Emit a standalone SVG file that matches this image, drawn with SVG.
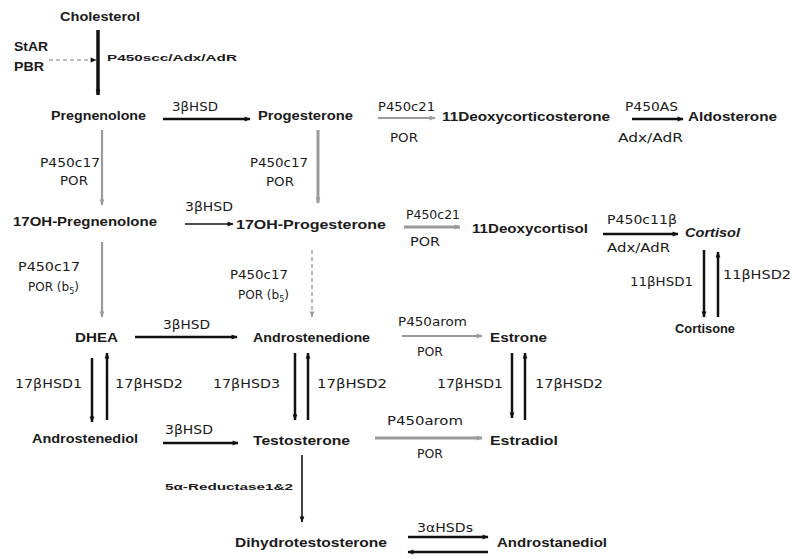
<svg xmlns="http://www.w3.org/2000/svg" width="792" height="559" viewBox="0 0 792 559">
<defs>
<style>
.n{font-family:"Liberation Sans",Arial,sans-serif;font-size:12px;font-weight:bold;fill:#1a1a1a}
.e{font-family:"DejaVu Sans","Liberation Sans",sans-serif;font-size:12px;fill:#1a1a1a}
.s{font-family:"Liberation Sans",Arial,sans-serif;font-size:9px;font-weight:bold;fill:#1a1a1a}
.k{stroke:#111;stroke-width:2.5;fill:none}
.kt{stroke:#111;stroke-width:1.6;fill:none}
.g{stroke:#9a9a9a;stroke-width:2.2;fill:none}
.gd{stroke:#a8a8a8;stroke-width:1.6;fill:none;stroke-dasharray:4 3}
</style>
<marker id="ak" viewBox="0 0 10 10" refX="9" refY="5" markerWidth="7" markerHeight="6" markerUnits="userSpaceOnUse" orient="auto"><path d="M0,1 L10,5 L0,9z" fill="#111"/></marker>
<marker id="ag" viewBox="0 0 10 10" refX="9" refY="5" markerWidth="7" markerHeight="6" markerUnits="userSpaceOnUse" orient="auto"><path d="M0,1 L10,5 L0,9z" fill="#9a9a9a"/></marker>
</defs>
<rect width="792" height="559" fill="#fff"/>

<g id="connectors">
<line class="gd" x1="49" y1="60" x2="96" y2="60" marker-end="url(#ak)"/>
<line x1="98" y1="30" x2="98" y2="95" stroke="#111" stroke-width="3.5" marker-end="url(#ak)"/>
<line class="k" x1="163" y1="119" x2="250" y2="119" marker-end="url(#ak)"/>
<line class="g" x1="378" y1="118" x2="435" y2="118" marker-end="url(#ag)"/>
<line class="k" x1="632" y1="119" x2="683" y2="119" marker-end="url(#ak)"/>
<line class="g" x1="102" y1="130" x2="102" y2="205" marker-end="url(#ag)"/>
<line x1="318" y1="130" x2="318" y2="203" stroke="#9a9a9a" stroke-width="3" marker-end="url(#ag)"/>
<line class="kt" x1="185" y1="224" x2="233" y2="224" marker-end="url(#ak)"/>
<line x1="404" y1="227" x2="460" y2="227" stroke="#9a9a9a" stroke-width="3" marker-end="url(#ag)"/>
<line class="k" x1="603" y1="234" x2="678" y2="234" marker-end="url(#ak)"/>
<line class="k" x1="704" y1="250" x2="704" y2="317" marker-end="url(#ak)"/>
<line class="k" x1="718" y1="317" x2="718" y2="252" marker-end="url(#ak)"/>
<line class="g" x1="102" y1="242" x2="102" y2="317" marker-end="url(#ag)"/>
<line class="gd" x1="312" y1="250" x2="312" y2="317" marker-end="url(#ag)"/>
<line class="k" x1="135" y1="337" x2="237" y2="337" marker-end="url(#ak)"/>
<line class="g" x1="402" y1="336" x2="482" y2="336" marker-end="url(#ag)"/>
<line class="k" x1="92" y1="358" x2="92" y2="422" marker-end="url(#ak)"/>
<line class="k" x1="107" y1="420" x2="107" y2="353" marker-end="url(#ak)"/>
<line class="k" x1="295" y1="353" x2="295" y2="420" marker-end="url(#ak)"/>
<line class="k" x1="308" y1="420" x2="308" y2="353" marker-end="url(#ak)"/>
<line class="k" x1="512" y1="353" x2="512" y2="418" marker-end="url(#ak)"/>
<line class="k" x1="525" y1="420" x2="525" y2="353" marker-end="url(#ak)"/>
<line class="k" x1="163" y1="443" x2="238" y2="443" marker-end="url(#ak)"/>
<line x1="375" y1="438" x2="482" y2="438" stroke="#9a9a9a" stroke-width="3" marker-end="url(#ag)"/>
<line class="kt" x1="302" y1="455" x2="302" y2="522" marker-end="url(#ak)"/>
<line class="k" x1="408" y1="537" x2="488" y2="537" marker-end="url(#ak)"/>
<line class="k" x1="488" y1="552" x2="408" y2="552" marker-end="url(#ak)"/>
</g>

<g id="labels">
<text class="n" x="14" y="51" textLength="34" lengthAdjust="spacingAndGlyphs">StAR</text>
<text class="n" x="14" y="71" textLength="30" lengthAdjust="spacingAndGlyphs">PBR</text>
<text class="s" x="107" y="61" textLength="130" lengthAdjust="spacingAndGlyphs">P450scc/Adx/AdR</text>
<text class="e" x="172" y="111" textLength="46" lengthAdjust="spacingAndGlyphs">3βHSD</text>
<text class="e" x="378" y="111" textLength="57" lengthAdjust="spacingAndGlyphs">P450c21</text>
<text class="e" x="390" y="142" textLength="28" lengthAdjust="spacingAndGlyphs">POR</text>
<text class="e" x="625" y="111" textLength="53" lengthAdjust="spacingAndGlyphs">P450AS</text>
<text class="e" x="618" y="142" textLength="65" lengthAdjust="spacingAndGlyphs">Adx/AdR</text>
<text class="e" x="40" y="167" textLength="60" lengthAdjust="spacingAndGlyphs">P450c17</text>
<text class="e" x="60" y="185" textLength="28" lengthAdjust="spacingAndGlyphs">POR</text>
<text class="e" x="250" y="167" textLength="58" lengthAdjust="spacingAndGlyphs">P450c17</text>
<text class="e" x="266" y="186" textLength="28" lengthAdjust="spacingAndGlyphs">POR</text>
<text class="e" x="185" y="211" font-size="10" textLength="48" lengthAdjust="spacingAndGlyphs">3βHSD</text>
<text class="e" x="406" y="219" textLength="54" lengthAdjust="spacingAndGlyphs">P450c21</text>
<text class="e" x="410" y="246" textLength="30" lengthAdjust="spacingAndGlyphs">POR</text>
<text class="e" x="607" y="224" textLength="70" lengthAdjust="spacingAndGlyphs">P450c11β</text>
<text class="e" x="607" y="252" textLength="63" lengthAdjust="spacingAndGlyphs">Adx/AdR</text>
<text class="e" x="630" y="286" textLength="63" lengthAdjust="spacingAndGlyphs">11βHSD1</text>
<text class="e" x="723" y="279" textLength="68" lengthAdjust="spacingAndGlyphs">11βHSD2</text>
<text class="e" x="18" y="271" textLength="62" lengthAdjust="spacingAndGlyphs">P450c17</text>
<text class="e" x="28" y="291">POR (b<tspan font-size="8" dy="3">5</tspan><tspan dy="-3">)</tspan></text>
<text class="e" x="230" y="279" textLength="58" lengthAdjust="spacingAndGlyphs">P450c17</text>
<text class="e" x="238" y="299">POR (b<tspan font-size="8" dy="3">5</tspan><tspan dy="-3">)</tspan></text>
<text class="e" x="163" y="329" textLength="47" lengthAdjust="spacingAndGlyphs">3βHSD</text>
<text class="e" x="398" y="326" textLength="69" lengthAdjust="spacingAndGlyphs">P450arom</text>
<text class="e" x="417" y="356" textLength="26" lengthAdjust="spacingAndGlyphs">POR</text>
<text class="e" x="15" y="388" textLength="67" lengthAdjust="spacingAndGlyphs">17βHSD1</text>
<text class="e" x="115" y="388" textLength="68" lengthAdjust="spacingAndGlyphs">17βHSD2</text>
<text class="e" x="213" y="388" textLength="67" lengthAdjust="spacingAndGlyphs">17βHSD3</text>
<text class="e" x="317" y="388" textLength="70" lengthAdjust="spacingAndGlyphs">17βHSD2</text>
<text class="e" x="437" y="388" textLength="66" lengthAdjust="spacingAndGlyphs">17βHSD1</text>
<text class="e" x="535" y="388" textLength="68" lengthAdjust="spacingAndGlyphs">17βHSD2</text>
<text class="e" x="165" y="434" textLength="48" lengthAdjust="spacingAndGlyphs">3βHSD</text>
<text class="e" x="387" y="425" font-size="8" textLength="76" lengthAdjust="spacingAndGlyphs">P450arom</text>
<text class="e" x="417" y="458" textLength="26" lengthAdjust="spacingAndGlyphs">POR</text>
<text class="s" x="165" y="490" textLength="128" lengthAdjust="spacingAndGlyphs">5α-Reductase1&amp;2</text>
<text class="e" x="417" y="532" textLength="56" lengthAdjust="spacingAndGlyphs">3αHSDs</text>
</g>

<g id="cholesterol"><text class="n" x="60" y="21" textLength="80" lengthAdjust="spacingAndGlyphs">Cholesterol</text></g>
<g id="pregnenolone"><text class="n" x="51" y="120" textLength="95" lengthAdjust="spacingAndGlyphs">Pregnenolone</text></g>
<g id="progesterone"><text class="n" x="258" y="120" textLength="95" lengthAdjust="spacingAndGlyphs">Progesterone</text></g>
<g id="deoxycorticosterone"><text class="n" x="442" y="121" textLength="168" lengthAdjust="spacingAndGlyphs">11Deoxycorticosterone</text></g>
<g id="aldosterone"><text class="n" x="688" y="121" textLength="89" lengthAdjust="spacingAndGlyphs">Aldosterone</text></g>
<g id="oh-pregnenolone"><text class="n" x="13" y="226" textLength="144" lengthAdjust="spacingAndGlyphs">17OH-Pregnenolone</text></g>
<g id="oh-progesterone"><text class="n" x="236" y="229" textLength="150" lengthAdjust="spacingAndGlyphs">17OH-Progesterone</text></g>
<g id="deoxycortisol"><text class="n" x="472" y="233" textLength="116" lengthAdjust="spacingAndGlyphs">11Deoxycortisol</text></g>
<g id="cortisol"><text class="n" x="685" y="237" font-style="italic" textLength="55" lengthAdjust="spacingAndGlyphs">Cortisol</text></g>
<g id="cortisone"><text class="n" x="675" y="333" textLength="60" lengthAdjust="spacingAndGlyphs">Cortisone</text></g>
<g id="dhea"><text class="n" x="75" y="342" textLength="43" lengthAdjust="spacingAndGlyphs">DHEA</text></g>
<g id="androstenedione"><text class="n" x="253" y="342" textLength="117" lengthAdjust="spacingAndGlyphs">Androstenedione</text></g>
<g id="estrone"><text class="n" x="490" y="342" textLength="57" lengthAdjust="spacingAndGlyphs">Estrone</text></g>
<g id="androstenediol"><text class="n" x="32" y="443" textLength="106" lengthAdjust="spacingAndGlyphs">Androstenediol</text></g>
<g id="testosterone"><text class="n" x="253" y="445" textLength="97" lengthAdjust="spacingAndGlyphs">Testosterone</text></g>
<g id="estradiol"><text class="n" x="490" y="445" textLength="68" lengthAdjust="spacingAndGlyphs">Estradiol</text></g>
<g id="dihydrotestosterone"><text class="n" x="235" y="547" textLength="152" lengthAdjust="spacingAndGlyphs">Dihydrotestosterone</text></g>
<g id="androstanediol"><text class="n" x="497" y="547" textLength="110" lengthAdjust="spacingAndGlyphs">Androstanediol</text></g>
</svg>
